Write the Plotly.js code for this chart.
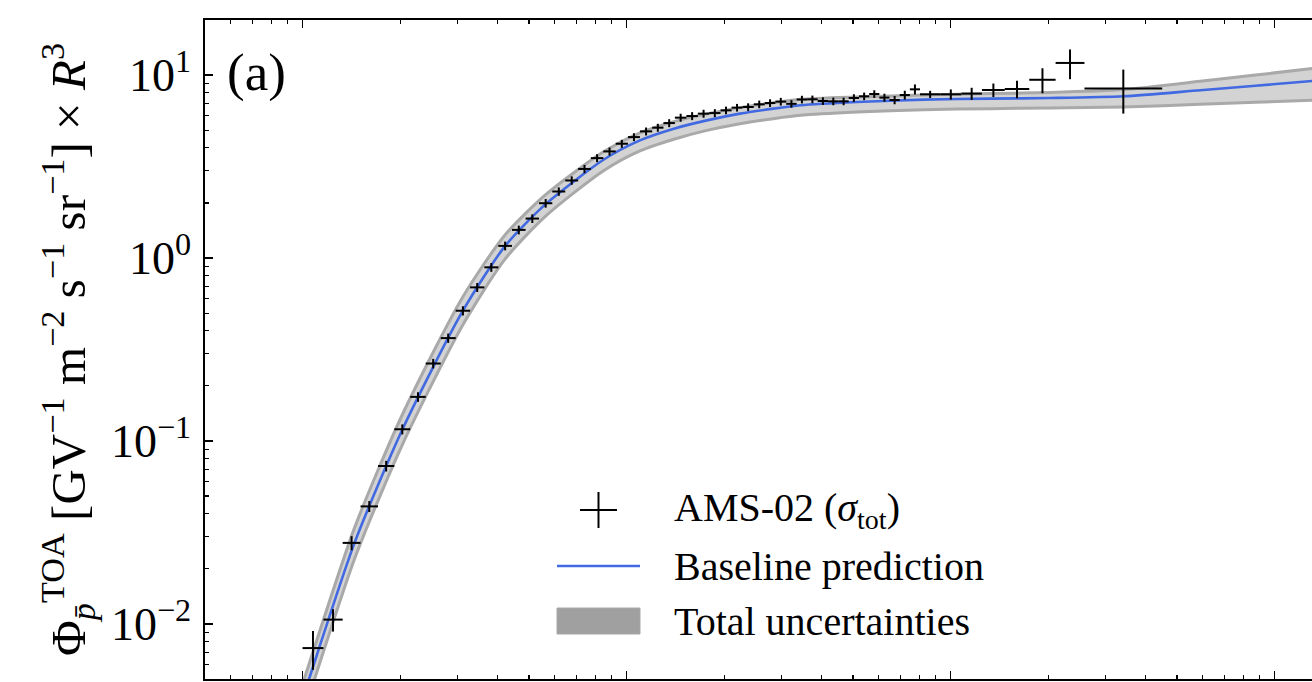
<!DOCTYPE html>
<html>
<head>
<meta charset="utf-8">
<script src="https://cdn.plot.ly/plotly-3.0.1.min.js"></script>
<style>
html, body { margin:0; padding:0; overflow:hidden; background:#ffffff; width:1312px; height:682px; }
#plot { width:1400px; height:682px; }
</style>
</head>
<body>
<div id="plot"></div>
<script>
// ---------- data ----------
// AMS-02 antiproton bins (rigidity, GV)
const rigCenter = [1.077,1.242,1.417,1.607,1.812,2.032,2.272,2.531,2.816,3.126,
  3.461,3.825,4.220,4.650,5.119,5.629,6.179,6.773,7.418,8.112,
  8.862,9.671,10.54,11.49,12.49,13.54,14.69,15.94,17.29,18.73,
  20.28,21.93,23.73,25.68,27.73,29.93,32.28,34.78,37.47,40.37,
  43.47,46.77,50.32,54.12,58.16,62.51,67.21,72.25,77.65,86.52,
  100.2,116.2,135.6,160.4,192.2,233.8,341.4];
const rigLow = [1.00,1.16,1.33,1.51,1.71,1.92,2.15,2.40,2.67,2.97,
  3.29,3.64,4.02,4.43,4.88,5.37,5.90,6.47,7.09,7.76,
  8.48,9.26,10.1,11.0,12.0,13.0,14.1,15.3,16.6,18.0,
  19.5,21.1,22.8,24.7,26.7,28.8,31.1,33.5,36.1,38.9,
  41.9,45.1,48.5,52.2,56.1,60.3,64.8,69.7,74.9,80.5,
  93.0,108,125,147,175,211,259];
const rigHigh = [1.16,1.33,1.51,1.71,1.92,2.15,2.40,2.67,2.97,3.29,
  3.64,4.02,4.43,4.88,5.37,5.90,6.47,7.09,7.76,8.48,
  9.26,10.1,11.0,12.0,13.0,14.1,15.3,16.6,18.0,19.5,
  21.1,22.8,24.7,26.7,28.8,31.1,33.5,36.1,38.9,41.9,
  45.1,48.5,52.2,56.1,60.3,64.8,69.7,74.9,80.5,93.0,
  108,125,147,175,211,259,450];
// flux x R^3
const amsFlux = [0.007379,0.01056,0.02773,0.04390,0.07296,0.1159,0.1742,0.2651,0.3650,0.5151,
  0.6911,0.8895,1.165,1.425,1.643,1.993,2.310,2.654,3.068,3.516,
  3.826,4.215,4.581,4.923,5.158,5.466,5.852,5.971,6.154,6.200,
  6.415,6.638,6.689,6.921,7.035,7.161,6.964,7.353,7.371,7.215,
  7.187,7.187,7.493,7.655,7.880,7.530,7.306,7.781,8.358,7.850,
  7.850,7.919,8.288,8.392,9.425,11.65,8.435];
const amsErr = [0.00177,0.00148,0.00244,0.00303,0.00489,0.0073,0.01045,0.0159,0.0212,0.0299,
  0.0387,0.0489,0.0641,0.0784,0.0887,0.1076,0.1224,0.1407,0.1595,0.176,
  0.191,0.211,0.229,0.246,0.258,0.273,0.293,0.299,0.308,0.310,
  0.308,0.319,0.321,0.332,0.338,0.344,0.334,0.353,0.354,0.346,
  0.345,0.345,0.360,0.367,0.378,0.377,0.380,0.428,0.527,0.353,
  0.495,0.602,0.704,0.923,1.470,2.155,2.277];

// baseline prediction and total-uncertainty band
const modelRig  = [0.8,0.95,1.044,1.447,2.035,3.126,4.222,5.627,8.49,11.0,14.0,17.7,22.4,28.4,34.4,51.4,82.6,133,203,342,590,1308,2000];
const modelBase = [0.00111,0.00292,0.00491,0.02773,0.1159,0.5152,1.165,1.97,3.445,4.395,5.093,5.655,6.155,6.553,6.833,7.124,7.342,7.436,7.492,7.654,8.259,9.284,9.89];
const modelLow  = [0.000896,0.00236,0.00396,0.02266,0.0959,0.4318,0.9888,1.693,2.999,3.850,4.461,4.985,5.426,5.777,6.024,6.280,6.472,6.555,6.604,6.688,6.922,7.278,7.494];
const modelHigh = [0.00134,0.00353,0.00593,0.03350,0.1400,0.6147,1.340,2.220,3.811,4.831,5.563,6.138,6.639,7.068,7.370,7.588,7.771,7.920,8.030,8.329,9.251,10.854,11.80];

// axis ticks
const yTickVals = [0.01, 0.1, 1, 10];
const yTickText = ['10<sup>−2</sup>', '10<sup>−1</sup>', '10<sup>0</sup>', '10<sup>1</sup>'];

// legend labels
const legendNames = ['AMS-02 (<i>σ</i><sub>tot</sub>)', 'Baseline prediction', 'Total uncertainties'];
const panelLabel = '(a)';
const yTitle = 'Φ<sub><i>p̄</i></sub><sup>TOA</sup> [GV<sup>−1</sup> m<sup>−2</sup> s<sup>−1</sup> sr<sup>−1</sup>] × <i>R</i><sup>3</sup>';

// ---------- styles ----------
const BAND_FILL = '#d3d3d3';
const BAND_EDGE = '#a9a9a9';
const BLUE = '#4169e1';
const FONT = 'Liberation Serif, Times New Roman, serif';

const yMinor = [];
for (let e = -3; e <= 1; e++) for (let m = 2; m <= 9; m++) yMinor.push(m * Math.pow(10, e));

const traces = [
  { x: modelRig, y: modelLow, type: 'scatter', mode: 'lines', name: 'lower',
    line: { color: BAND_EDGE, width: 3, shape: 'spline', smoothing: 0.7 }, showlegend: false, hoverinfo: 'skip' },
  { x: modelRig, y: modelHigh, type: 'scatter', mode: 'lines', name: legendNames[2],
    fill: 'tonexty', fillcolor: BAND_FILL,
    line: { color: BAND_EDGE, width: 3, shape: 'spline', smoothing: 0.7 }, showlegend: false },
  { x: modelRig, y: modelBase, type: 'scatter', mode: 'lines', name: legendNames[1],
    line: { color: BLUE, width: 2.6, shape: 'spline', smoothing: 0.7 }, showlegend: false },
  { x: rigCenter, y: amsFlux, type: 'scatter', mode: 'markers', name: legendNames[0],
    marker: { size: 1, color: 'rgba(0,0,0,0)' }, showlegend: false,
    error_x: { type: 'data', symmetric: false,
      array: rigHigh.map((h, i) => h - rigCenter[i]),
      arrayminus: rigLow.map((l, i) => rigCenter[i] - l),
      color: 'black', thickness: 2, width: 0 },
    error_y: { type: 'data', array: amsErr, color: 'black', thickness: 2, width: 0 } }
];

// plot area geometry (px)
const W = 1400, H = 682, ML = 205, MR = 10, MT = 20, MB = 3;
const PW = W - ML - MR, PH = H - MT - MB;
const px = v => (v - ML) / PW;
const py = v => (H - MB - v) / PH;

const legX0 = 557, legX1 = 640, legTextX = 672, legY = [510, 566, 621];

const layout = {
  width: W, height: H,
  margin: { l: ML, r: MR, t: MT, b: MB, pad: 0 },
  paper_bgcolor: '#ffffff', plot_bgcolor: '#ffffff',
  showlegend: false,
  font: { family: FONT, color: '#000000', size: 36 },
  xaxis: {
    type: 'log', range: [-0.30103, 3.3564], autorange: false,
    showline: true, linecolor: '#000000', linewidth: 1.6, mirror: 'allticks',
    ticks: 'inside', ticklen: 8, tickwidth: 1.4, tickcolor: '#000000',
    tickmode: 'linear', tick0: 0, dtick: 1, showticklabels: false,
    showgrid: false, zeroline: false,
    minor: { ticks: 'inside', ticklen: 4, tickwidth: 1.1, tickcolor: '#000000', dtick: 'D1', showgrid: false }
  },
  yaxis: {
    type: 'log', range: [-2.30103, 1.30103], autorange: false,
    showline: true, linecolor: '#000000', linewidth: 1.6, mirror: 'allticks',
    ticks: 'inside', ticklen: 8, tickwidth: 1.4, tickcolor: '#000000',
    tickmode: 'array', tickvals: yTickVals, ticktext: yTickText,
    tickfont: { family: FONT, size: 46, color: '#000000' },
    ticklabelstandoff: 3,
    showgrid: false, zeroline: false, automargin: false,
    minor: { ticks: 'inside', ticklen: 4, tickwidth: 1.1, tickcolor: '#000000', tickmode: 'array', tickvals: yMinor, showgrid: false },
    title: { text: yTitle, font: { family: FONT, size: 49, color: '#000000' }, standoff: 10 }
  },
  annotations: [
    { text: panelLabel, xref: 'paper', yref: 'paper', x: px(225), y: py(72), xanchor: 'left', yanchor: 'middle',
      showarrow: false, font: { family: FONT, size: 53, color: '#000000' } },
    { text: legendNames[0], xref: 'paper', yref: 'paper', x: px(legTextX), y: py(legY[0]), xanchor: 'left', yanchor: 'middle',
      showarrow: false, font: { family: FONT, size: 40, color: '#000000' } },
    { text: legendNames[1], xref: 'paper', yref: 'paper', x: px(legTextX), y: py(legY[1]), xanchor: 'left', yanchor: 'middle',
      showarrow: false, font: { family: FONT, size: 40, color: '#000000' } },
    { text: legendNames[2], xref: 'paper', yref: 'paper', x: px(legTextX), y: py(legY[2]), xanchor: 'left', yanchor: 'middle',
      showarrow: false, font: { family: FONT, size: 40, color: '#000000' } }
  ],
  shapes: [
    // legend: error-bar cross
    { type: 'line', xref: 'paper', yref: 'paper', x0: px(580), x1: px(617), y0: py(legY[0]), y1: py(legY[0]), line: { color: '#000000', width: 2 } },
    { type: 'line', xref: 'paper', yref: 'paper', x0: px(598.5), x1: px(598.5), y0: py(legY[0] - 18), y1: py(legY[0] + 18), line: { color: '#000000', width: 2 } },
    // legend: baseline line
    { type: 'line', xref: 'paper', yref: 'paper', x0: px(legX0), x1: px(legX1), y0: py(legY[1]), y1: py(legY[1]), line: { color: BLUE, width: 2.6 } },
    // legend: band patch
    { type: 'rect', xref: 'paper', yref: 'paper', x0: px(legX0), x1: px(legX1), y0: py(legY[2] + 13), y1: py(legY[2] - 13),
      line: { color: '#a8a8a8', width: 1 }, fillcolor: '#a0a0a0' }
  ]
};

Plotly.newPlot('plot', traces, layout, { staticPlot: true, displayModeBar: false });
</script>
</body>
</html>
